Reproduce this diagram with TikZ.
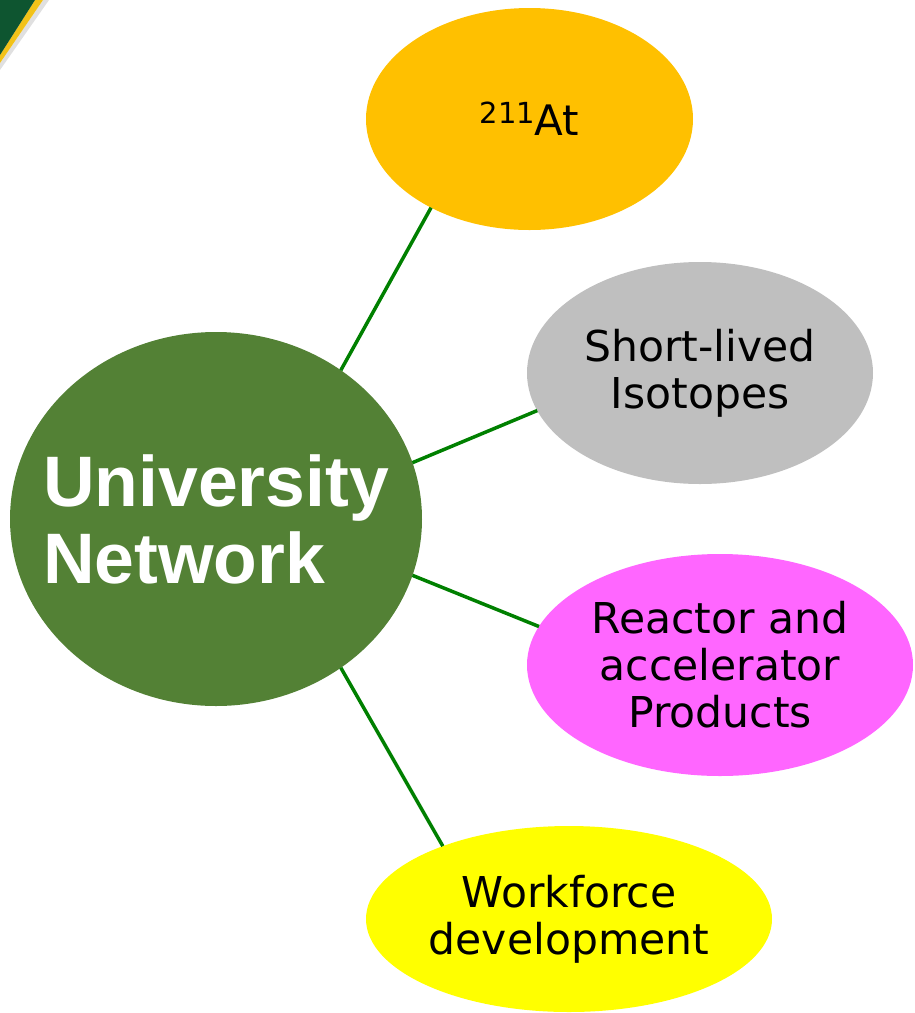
\documentclass[tikz,border=0pt]{standalone}
\usepackage{fontspec}
\setmainfont{DejaVu Sans}
\newfontfamily\arialbold[BoldFont={Liberation Sans Bold}]{Liberation Sans}
\usetikzlibrary{shapes.geometric}
\definecolor{cgreen}{HTML}{538135}
\definecolor{lgreen}{HTML}{008000}
\definecolor{cgold}{HTML}{FFC000}
\definecolor{cgray}{HTML}{BFBFBF}
\definecolor{cmag}{HTML}{FF66FF}
\definecolor{cyel}{HTML}{FFFF00}
\definecolor{cornergreen}{HTML}{0E5530}
\definecolor{corneryellow}{HTML}{F2C218}
\tikzset{
  blob/.style={ellipse, inner sep=0pt, outer sep=0pt},
  txt/.style={inner sep=0pt, align=center, font=\fontsize{42.5}{47}\selectfont, text=black},
  link/.style={draw=lgreen, line width=3.5pt}
}
\begin{document}
\begin{tikzpicture}[x=1pt,y=-1pt]
\useasboundingbox (0,0) rectangle (914,1013);
% corner decoration
\fill[black!12] (43,0) -- (49,0) -- (0,70) -- (0,63) -- cycle;
\fill[corneryellow] (35,0) -- (43,0) -- (0,63) -- (0,55) -- cycle;
\fill[cornergreen] (0,0) -- (35,0) -- (0,55) -- cycle;
% shapes
\node[blob, fill=cgreen, minimum width=412pt, minimum height=374pt] (un) at (216,519) {};
\node[blob, fill=cgold, minimum width=327pt, minimum height=222pt] (at) at (529.5,119) {};
\node[blob, fill=cgray, minimum width=346pt, minimum height=222pt] (sl) at (700,373) {};
\node[blob, fill=cmag, minimum width=386pt, minimum height=222pt] (ra) at (720,665) {};
\node[blob, fill=cyel, minimum width=406pt, minimum height=186pt] (wd) at (569,919) {};
% texts
\node[inner sep=0pt, align=left, text=white, font={\arialbold\bfseries\fontsize{71.5}{77}\selectfont}]
  (un-t) at (un) {University\\Network};
\node[txt] (at-t) at (at)
  {\raisebox{12pt}{\fontsize{29}{30}\selectfont 211}{\fontsize{42}{46}\selectfont At}};
\node[txt] (sl-t) at (sl) {Short-lived\\Isotopes};
\node[txt] (ra-t) at (ra) {Reactor and\\accelerator\\Products};
\node[txt] (wd-t) at (wd) {Workforce\\development};
% connectors
\draw[link] (un.50.3) -- (at.222.5);
\draw[link] (un.16.4) -- (sl.193.2);
\draw[link] (un.-16.4) -- (ra.168.1);
\draw[link] (un.-50.3) -- (wd.150.7);
\end{tikzpicture}
\end{document}
